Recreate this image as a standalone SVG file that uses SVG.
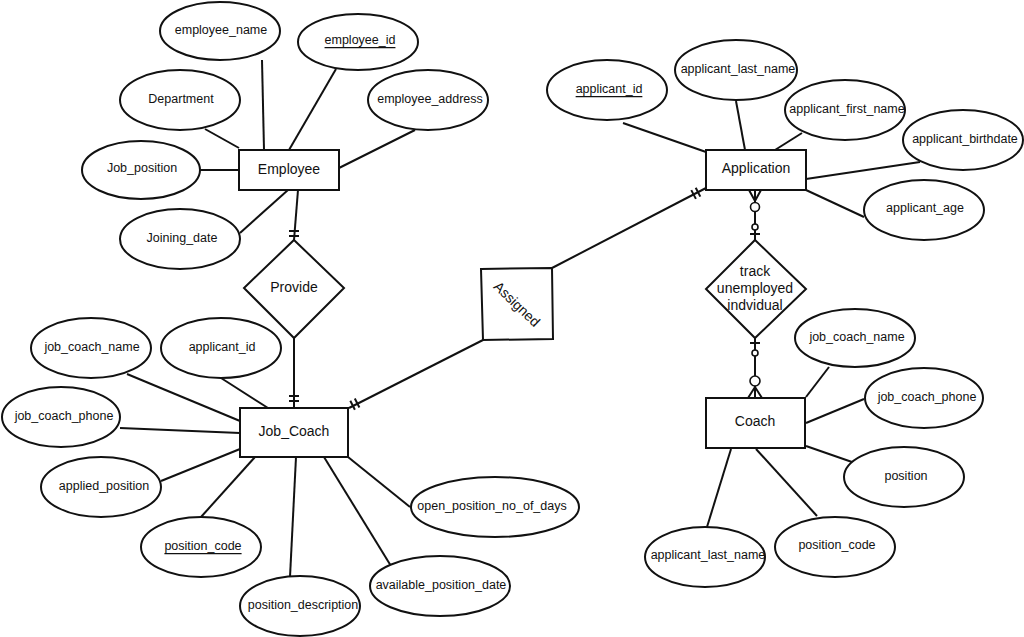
<svg xmlns="http://www.w3.org/2000/svg" width="1024" height="637" viewBox="0 0 1024 637">
<style>
.n{fill:#fff;stroke:#111;stroke-width:2}
.c{stroke:#111;stroke-width:2;fill:none}
.o{fill:#fff;stroke:#111;stroke-width:1.6}
text{font-family:"Liberation Sans",Arial,sans-serif;font-size:12.5px;fill:#111;text-anchor:middle;dominant-baseline:central}
.e{font-size:14px}
.u{text-decoration:underline}
</style>
<rect width="1024" height="637" fill="#fff"/>
<g id="connectors">
<line class="c" x1="262" y1="60" x2="264" y2="150"/>
<line class="c" x1="336" y1="69" x2="289" y2="150"/>
<line class="c" x1="205" y1="129" x2="239" y2="148"/>
<line class="c" x1="415" y1="130" x2="339" y2="168"/>
<line class="c" x1="199" y1="170" x2="239" y2="170"/>
<line class="c" x1="240" y1="233" x2="288" y2="190"/>
<line class="c" x1="298" y1="190" x2="294" y2="240"/>
<line class="c" x1="289" y1="231" x2="299" y2="231"/>
<line class="c" x1="289" y1="236" x2="299" y2="236"/>
<line class="c" x1="294" y1="338" x2="294" y2="408"/>
<line class="c" x1="289" y1="396" x2="299" y2="396"/>
<line class="c" x1="289" y1="401" x2="299" y2="401"/>
<line class="c" x1="127" y1="374" x2="240" y2="421"/>
<line class="c" x1="221" y1="378" x2="268" y2="408"/>
<line class="c" x1="120" y1="428" x2="240" y2="433"/>
<line class="c" x1="161" y1="481" x2="240" y2="449"/>
<line class="c" x1="201" y1="517" x2="255" y2="457"/>
<line class="c" x1="290" y1="577" x2="296" y2="457"/>
<line class="c" x1="391" y1="566" x2="324" y2="457"/>
<line class="c" x1="410" y1="507" x2="348" y2="457"/>
<line class="c" x1="349" y1="408" x2="483" y2="340"/>
<line class="c" x1="350.3" y1="400.8" x2="354.9" y2="409.8"/>
<line class="c" x1="354.8" y1="398.5" x2="359.4" y2="407.5"/>
<line class="c" x1="552" y1="268" x2="706" y2="188"/>
<line class="c" x1="695.7" y1="187.8" x2="700.3" y2="196.6"/>
<line class="c" x1="691.3" y1="190.1" x2="695.9" y2="198.9"/>
<line class="c" x1="623" y1="123" x2="706" y2="152"/>
<line class="c" x1="736" y1="101" x2="745" y2="150"/>
<line class="c" x1="802" y1="133" x2="775" y2="150"/>
<line class="c" x1="920" y1="162" x2="806" y2="179"/>
<line class="c" x1="864" y1="217" x2="806" y2="190"/>
<line class="c" x1="755" y1="190" x2="755" y2="240"/>
<polyline class="c" points="749,190 755,201 761,190"/>
<circle class="o" cx="755" cy="207" r="4.5"/>
<circle class="o" cx="755" cy="227" r="3"/>
<line class="c" x1="750" y1="234" x2="760" y2="234"/>
<line class="c" x1="755" y1="338" x2="755" y2="398"/>
<line class="c" x1="750" y1="343" x2="760" y2="343"/>
<circle class="o" cx="755" cy="353" r="3"/>
<circle class="o" cx="755" cy="381" r="5"/>
<polyline class="c" points="748,398 755,387 762,398"/>
<line class="c" x1="829" y1="367" x2="806" y2="397"/>
<line class="c" x1="864" y1="399" x2="806" y2="423"/>
<line class="c" x1="852" y1="462" x2="806" y2="446"/>
<line class="c" x1="817" y1="516" x2="756" y2="449"/>
<line class="c" x1="707" y1="527" x2="731" y2="449"/>
</g>
<g id="employee"><rect class="n" x="239" y="150" width="100" height="40"/><text class="e" x="289" y="169">Employee</text></g>
<g id="employee_name"><ellipse class="n" cx="220" cy="31" rx="60" ry="29"/><text x="221" y="30">employee_name</text></g>
<g id="employee_id"><ellipse class="n" cx="358" cy="42" rx="60" ry="28"/><text class="u" x="360" y="40">employee_id</text></g>
<g id="department"><ellipse class="n" cx="180" cy="100" rx="60" ry="30"/><text x="181" y="99">Department</text></g>
<g id="employee_address"><ellipse class="n" cx="428" cy="100" rx="60" ry="30"/><text x="430" y="99">employee_address</text></g>
<g id="job_position"><ellipse class="n" cx="141" cy="170" rx="59" ry="29"/><text x="142" y="168">Job_position</text></g>
<g id="joining_date"><ellipse class="n" cx="180" cy="239" rx="60" ry="30"/><text x="182" y="238">Joining_date</text></g>
<g id="provide"><polygon class="n" points="294,240 344,288 294,338 244,288"/><text class="e" x="294" y="287">Provide</text></g>
<g id="assigned"><polygon class="n" points="481,269 552,268 553,339 483,340"/><text class="e" x="517" y="304" transform="rotate(44 517 304)">Assigned</text></g>
<g id="job_coach"><rect class="n" x="240" y="408" width="108" height="49"/><text class="e" x="294" y="431">Job_Coach</text></g>
<g id="jc_job_coach_name"><ellipse class="n" cx="91" cy="348" rx="60" ry="30"/><text x="92" y="347">job_coach_name</text></g>
<g id="jc_applicant_id"><ellipse class="n" cx="221" cy="348" rx="60" ry="30"/><text x="222" y="347">applicant_id</text></g>
<g id="jc_job_coach_phone"><ellipse class="n" cx="61" cy="417" rx="59" ry="30"/><text x="64" y="416">job_coach_phone</text></g>
<g id="applied_position"><ellipse class="n" cx="101" cy="487" rx="60" ry="30"/><text x="104" y="486">applied_position</text></g>
<g id="jc_position_code"><ellipse class="n" cx="201" cy="547" rx="60" ry="30"/><text class="u" x="203" y="546">position_code</text></g>
<g id="position_description"><ellipse class="n" cx="300" cy="606" rx="60" ry="30"/><text x="303" y="605">position_description</text></g>
<g id="available_position_date"><ellipse class="n" cx="440" cy="586" rx="70" ry="30"/><text x="441" y="585">available_position_date</text></g>
<g id="open_position_no_of_days"><ellipse class="n" cx="495" cy="507" rx="84" ry="30"/><text x="492" y="506">open_position_no_of_days</text></g>
<g id="application"><rect class="n" x="706" y="150" width="100" height="40"/><text class="e" x="756" y="168">Application</text></g>
<g id="app_applicant_id"><ellipse class="n" cx="607" cy="90" rx="60" ry="30"/><text class="u" x="609" y="89">applicant_id</text></g>
<g id="app_applicant_last_name"><ellipse class="n" cx="736" cy="70" rx="61" ry="30"/><text x="738" y="69">applicant_last_name</text></g>
<g id="applicant_first_name"><ellipse class="n" cx="845" cy="110" rx="60" ry="30"/><text x="847" y="109">applicant_first_name</text></g>
<g id="applicant_birthdate"><ellipse class="n" cx="963" cy="140" rx="60" ry="30"/><text x="965" y="139">applicant_birthdate</text></g>
<g id="applicant_age"><ellipse class="n" cx="924" cy="210" rx="60" ry="30"/><text x="925" y="208">applicant_age</text></g>
<g id="track"><polygon class="n" points="755,240 806,289 755,338 706,289"/><text class="e" x="755" y="271">track</text><text class="e" x="755" y="288">unemployed</text><text class="e" x="755" y="305">indvidual</text></g>
<g id="coach"><rect class="n" x="706" y="398" width="99" height="50"/><text class="e" x="755" y="421">Coach</text></g>
<g id="coach_job_coach_name"><ellipse class="n" cx="855" cy="338" rx="60" ry="29"/><text x="857" y="337">job_coach_name</text></g>
<g id="coach_job_coach_phone"><ellipse class="n" cx="924" cy="398" rx="59" ry="30"/><text x="927" y="397">job_coach_phone</text></g>
<g id="position"><ellipse class="n" cx="904" cy="477" rx="60" ry="30"/><text x="906" y="476">position</text></g>
<g id="coach_position_code"><ellipse class="n" cx="835" cy="547" rx="60" ry="30"/><text x="837" y="545">position_code</text></g>
<g id="coach_applicant_last_name"><ellipse class="n" cx="705" cy="557" rx="60" ry="30"/><text x="708" y="555">applicant_last_name</text></g>
</svg>
